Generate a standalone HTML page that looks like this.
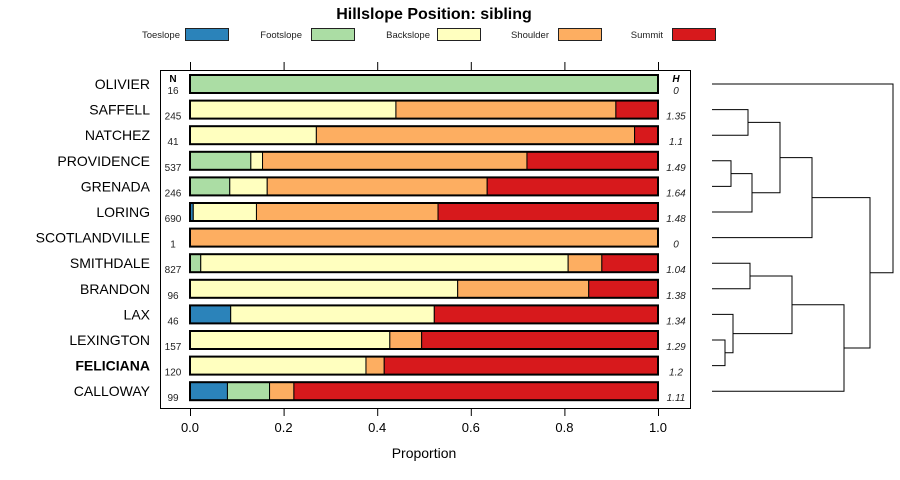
<!DOCTYPE html>
<html><head><meta charset="utf-8"><style>
body{margin:0;background:#fff;}
svg{display:block;font-family:"Liberation Sans",sans-serif;}
</style></head><body>
<svg id="c" width="900" height="480"></svg>
<script>
const categories=["OLIVIER","SAFFELL","NATCHEZ","PROVIDENCE","GRENADA","LORING","SCOTLANDVILLE","SMITHDALE","BRANDON","LAX","LEXINGTON","FELICIANA","CALLOWAY"];
const seriesNames=["Toeslope","Footslope","Backslope","Shoulder","Summit"];
const toeslope=[0,0,0,0,0,0.007,0,0,0,0.087,0,0,0.08];
const footslope=[1,0,0,0.13,0.085,0,0,0.023,0,0,0,0,0.09];
const backslope=[0,0.44,0.27,0.025,0.08,0.135,0,0.785,0.572,0.435,0.427,0.376,0];
const shoulder=[0,0.47,0.68,0.565,0.47,0.388,1,0.072,0.28,0,0.068,0.039,0.052];
const summit=[0,0.09,0.05,0.28,0.365,0.47,0,0.12,0.148,0.478,0.505,0.585,0.778];
const nValues=["16","245","41","537","246","690","1","827","96","46","157","120","99"];
const hValues=["0","1.35","1.1","1.49","1.64","1.48","0","1.04","1.38","1.34","1.29","1.2","1.11"];
const tickValues=[0,0.2,0.4,0.6,0.8,1];
const tickLabels=["0.0","0.2","0.4","0.6","0.8","1.0"];
const colors=["#2B83BA","#ABDDA4","#FFFFBF","#FDAE61","#D7191C"];
const NS="http://www.w3.org/2000/svg";
const svgRoot=document.getElementById("c");
function el(t,a,p){const e=document.createElementNS(NS,t);for(const k in a)e.setAttribute(k,a[k]);(p||svgRoot).appendChild(e);return e;}
const xS=v=>190+v*468;
const yS=i=>84+i*25.6;
const titleEl=el("text",{x:434,y:19,"text-anchor":"middle","font-size":16,"font-weight":"bold"});titleEl.textContent="Hillslope Position: sibling";


const legTextEnd=[180,302,430,549,663];
const legBoxX=[185,311,437,558,672];
seriesNames.forEach((n,i)=>{
 const g=el("g",{});
 
 
 const tx=el("text",{x:legTextEnd[i],y:38,"text-anchor":"end","font-size":9.5,fill:"#222"},g);tx.textContent=n;
 el("rect",{x:legBoxX[i]+0.5,y:28.5,width:43,height:12,fill:colors[i],stroke:"#222","stroke-width":1},g);
});
const fr=el("rect",{x:160.5,y:70.5,width:530,height:338,fill:"none",stroke:"#000"});


tickValues.forEach((v,i)=>{
 const x=xS(v)+0.5;
 el("line",{x1:x,x2:x,y1:62,y2:70,stroke:"#000"});
 el("line",{x1:x,x2:x,y1:409,y2:416,stroke:"#000"});
 const tl=el("text",{x:xS(v),y:432,"text-anchor":"middle","font-size":13});tl.textContent=tickLabels[i];
 
 
});
const xt=el("text",{x:424,y:458,"text-anchor":"middle","font-size":14});xt.textContent="Proportion";


const nh=el("text",{x:173,y:82,"text-anchor":"middle","font-size":10,"font-weight":"bold"});nh.textContent="N";
const hh=el("text",{x:676,y:82,"text-anchor":"middle","font-size":10,"font-weight":"bold","font-style":"italic"});hh.textContent="H";
const series=[toeslope,footslope,backslope,shoulder,summit];
categories.forEach((c,i)=>{
 const y=yS(i);
 const lab=el("text",{x:150,y:y+5,"text-anchor":"end","font-size":14,"font-weight":c==="FELICIANA"?"bold":"normal"});lab.textContent=c;
 
 
 const nt=el("text",{x:173,y:y+10,"text-anchor":"middle","font-size":10,fill:"#222"});nt.textContent=nValues[i];
 const ht=el("text",{x:676,y:y+10,"text-anchor":"middle","font-size":10,"font-style":"italic",fill:"#222"});ht.textContent=hValues[i];
 let cum=0;
 series.forEach((s,j)=>{
  const v=s[i];if(v<=0)return;
  const r=el("rect",{x:xS(cum),y:y-9,width:xS(cum+v)-xS(cum),height:18,fill:colors[j],stroke:"#000","stroke-width":1});
  
  
  cum+=v;
 });
 el("rect",{x:xS(0),y:y-9,width:xS(1)-xS(0),height:18,fill:"none",stroke:"#000","stroke-width":2});
});
const dg=el("g",{fill:"none",stroke:"#000","stroke-width":1});


const leafX=712;
function leaf(i){return {x:leafX,y:yS(i)};}
function join(a,b,h){el("path",{d:`M${a.x},${a.y}H${h}V${b.y}H${b.x}`},dg);return {x:h,y:(a.y+b.y)/2};}
const sn=join(leaf(1),leaf(2),748);
const pg=join(leaf(3),leaf(4),731);
const pgl=join(pg,leaf(5),752);
const a1=join(sn,pgl,780);
const a2=join(a1,leaf(6),812);
const sb=join(leaf(7),leaf(8),750);
const lf=join(leaf(10),leaf(11),725);
const llf=join(leaf(9),lf,733);
const b1=join(sb,llf,792);
const b2=join(b1,leaf(12),844);
const rootJoin=join(a2,b2,870);
join(leaf(0),rootJoin,893);
</script>
</body></html>
